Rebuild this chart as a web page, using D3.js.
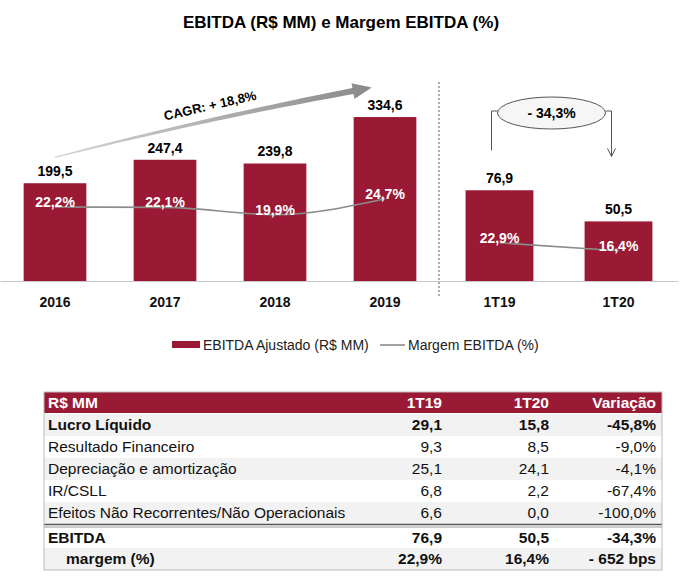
<!DOCTYPE html>
<html>
<head>
<meta charset="utf-8">
<script src="https://cdn.jsdelivr.net/npm/d3@7"></script>
<style>
  body { margin: 0; background: #fff; }
  text { font-family: "Liberation Sans", Arial, sans-serif; }
</style>
</head>
<body>
<svg id="chart" width="690" height="584"></svg>
<script>
// chart data
var years = ["2016", "2017", "2018", "2019"];
var ebitdaYears = [199.5, 247.4, 239.8, 334.6];
var marginYears = [22.2, 22.1, 19.9, 24.7];
var quarters = ["1T19", "1T20"];
var ebitdaQuarters = [76.9, 50.5];
var marginQuarters = [22.9, 16.4];
var cagrLabel = "CAGR: + 18,8%";
var changeLabel = "- 34,3%";
var legendLabels = ["EBITDA Ajustado (R$ MM)", "Margem EBITDA (%)"];

// table data
var tableHeader = ["R$ MM", "1T19", "1T20", "Variação"];
var rowLabels = ["Lucro Líquido", "Resultado Financeiro", "Depreciação e amortização", "IR/CSLL",
  "Efeitos Não Recorrentes/Não Operacionais", "EBITDA", "margem (%)"];
var col1T19 = [29.1, 9.3, 25.1, 6.8, 6.6, 76.9, 22.9];
var col1T20 = [15.8, 8.5, 24.1, 2.2, 0.0, 50.5, 16.4];
var colVariacao = [-45.8, -9.0, -4.1, -67.4, -100.0, -34.3, -652]; // last one in bps

var red = "#9a1a35";
var grey = "#8c8c8c";

var loc = d3.formatLocale({decimal: ",", thousands: ".", grouping: [3], currency: ["R$", ""], minus: "-"});
var fmt1 = loc.format(".1f");

var svg = d3.select("#chart");

// title
svg.append("text")
  .attr("x", 341).attr("y", 28)
  .attr("text-anchor", "middle")
  .style("font-size", "17px").style("font-weight", "bold")
  .text("EBITDA (R$ MM) e Margem EBITDA (%)");

// scales
var xL = d3.scaleBand().domain(years).range([0, 440]).paddingInner(0.43).paddingOuter(0.215);
var yL = d3.scaleLinear().domain([0, 400]).range([281, 85]);
var mL = d3.scaleLinear().domain([0, 30]).range([281, 181]);

var xR = d3.scaleBand().domain(quarters).range([440, 678]).paddingInner(0.43).paddingOuter(0.215);
var yR = d3.scaleLinear().domain([0, 100]).range([281, 163]);
var mR = d3.scaleLinear().domain([0, 30]).range([271, 234]);

// draw one panel: bars, values, margin line, axis
function panel(cats, vals, margins, x, y, m) {
  var g = svg.append("g");

  g.selectAll("rect.bar")
    .data(vals)
    .enter().append("rect")
    .attr("class", "bar")
    .attr("x", function (d, i) { return x(cats[i]); })
    .attr("y", function (d) { return y(d); })
    .attr("width", x.bandwidth())
    .attr("height", function (d) { return y(0) - y(d); })
    .attr("fill", red);

  g.selectAll("text.val")
    .data(vals)
    .enter().append("text")
    .attr("class", "val")
    .attr("x", function (d, i) { return x(cats[i]) + x.bandwidth() / 2; })
    .attr("y", function (d) { return y(d) - 7; })
    .attr("text-anchor", "middle")
    .style("font-size", "14px").style("font-weight", "bold")
    .text(function (d) { return fmt1(d); });

  var line = d3.line()
    .x(function (d, i) { return x(cats[i]) + x.bandwidth() / 2; })
    .y(function (d) { return m(d); })
    .curve(d3.curveMonotoneX);

  g.append("path")
    .datum(margins)
    .attr("d", line)
    .attr("fill", "none")
    .attr("stroke", grey)
    .attr("stroke-width", 1.6);

  g.selectAll("text.mrg")
    .data(margins)
    .enter().append("text")
    .attr("class", "mrg")
    .attr("x", function (d, i) { return x(cats[i]) + x.bandwidth() / 2; })
    .attr("y", function (d) { return m(d); })
    .attr("text-anchor", "middle")
    .attr("fill", "#fff")
    .style("font-size", "14px").style("font-weight", "bold")
    .text(function (d) { return fmt1(d) + "%"; });

  var ax = g.append("g")
    .attr("transform", "translate(0," + y(0) + ")")
    .call(d3.axisBottom(x).tickSize(0).tickPadding(16));
  ax.select(".domain").attr("stroke", "#c8c8c8");
  ax.selectAll("text")
    .style("font-family", "'Liberation Sans', Arial, sans-serif")
    .style("font-size", "14px").style("font-weight", "bold").attr("fill", "#111");
  return g;
}

panel(years, ebitdaYears, marginYears, xL, yL, mL);
panel(quarters, ebitdaQuarters, marginQuarters, xR, yR, mR);

// divider
svg.append("line")
  .attr("x1", 439).attr("x2", 439).attr("y1", 82).attr("y2", 298)
  .attr("stroke", "#777").attr("stroke-width", 1.2).attr("stroke-dasharray", "2,2");

// CAGR arrow (tapered)
var p0 = [xL(years[0]) + xL.bandwidth() / 2, yL(ebitdaYears[0]) - 26];
var p2 = [xL(years[3]) + xL.bandwidth() / 2 - 32, yL(ebitdaYears[3]) - 26];
var p1 = [(p0[0] + p2[0]) / 2, (p0[1] + p2[1]) / 2 - 5];

function bez(t) {
  var a = (1 - t) * (1 - t), b = 2 * (1 - t) * t, c = t * t;
  return [a * p0[0] + b * p1[0] + c * p2[0], a * p0[1] + b * p1[1] + c * p2[1]];
}
function tan(t) {
  var dx = 2 * (1 - t) * (p1[0] - p0[0]) + 2 * t * (p2[0] - p1[0]);
  var dy = 2 * (1 - t) * (p1[1] - p0[1]) + 2 * t * (p2[1] - p1[1]);
  var l = Math.sqrt(dx * dx + dy * dy);
  return [dx / l, dy / l];
}
var leftSide = [], rightSide = [];
d3.range(0, 31).forEach(function (i) {
  var t = i / 30, p = bez(t), tg = tan(t), w = 0.7 + 2.3 * t;
  leftSide.push([p[0] - tg[1] * w, p[1] + tg[0] * w]);
  rightSide.push([p[0] + tg[1] * w, p[1] - tg[0] * w]);
});
var tgEnd = tan(1);
var tip = [p2[0] + tgEnd[0] * 19, p2[1] + tgEnd[1] * 19];
var head = [
  [p2[0] - tgEnd[1] * 8, p2[1] + tgEnd[0] * 8],
  tip,
  [p2[0] + tgEnd[1] * 8, p2[1] - tgEnd[0] * 8]
];

var defs = svg.append("defs");
var grad = defs.append("linearGradient").attr("id", "arrowGrad")
  .attr("gradientUnits", "userSpaceOnUse")
  .attr("x1", p0[0]).attr("y1", p0[1]).attr("x2", tip[0]).attr("y2", tip[1]);
grad.append("stop").attr("offset", "0%").attr("stop-color", "#d6d6d6");
grad.append("stop").attr("offset", "100%").attr("stop-color", "#8a8a8a");

svg.append("path")
  .attr("d", d3.line()(leftSide.concat([head[0], head[1], head[2]]).concat(rightSide.reverse())) + "Z")
  .attr("fill", "url(#arrowGrad)");

svg.append("text")
  .attr("transform", "translate(211,110) rotate(-13)")
  .attr("text-anchor", "middle")
  .style("font-size", "13px").style("font-weight", "bold")
  .text(cagrLabel);

// quarter change annotation
var bx1 = xR(quarters[0]) + xR.bandwidth() / 2 - 8;
var bx2 = xR(quarters[1]) + xR.bandwidth() / 2 - 7;
var ecx = (bx1 + bx2) / 2, ecy = 113, erx = 54, ery = 16;
var ann = svg.append("g").attr("fill", "none").attr("stroke", "#555").attr("stroke-width", 1);
ann.append("path").attr("d", "M" + bx1 + "," + (yR(ebitdaQuarters[0]) - 40) + "V111H" + (ecx - erx));
ann.append("path").attr("d", "M" + (ecx + erx) + ",111H" + bx2 + "V" + (yR(ebitdaQuarters[1]) - 65));
ann.append("path").attr("d", "M" + (bx2 - 4) + "," + (yR(ebitdaQuarters[1]) - 73) + "L" + bx2 + "," +
  (yR(ebitdaQuarters[1]) - 65) + "L" + (bx2 + 4) + "," + (yR(ebitdaQuarters[1]) - 73));
ann.append("ellipse")
  .attr("cx", ecx).attr("cy", ecy).attr("rx", erx).attr("ry", ery)
  .attr("fill", "#f6f6f6");
svg.append("text")
  .attr("x", ecx).attr("y", ecy + 5)
  .attr("text-anchor", "middle")
  .style("font-size", "14px").style("font-weight", "bold")
  .text(changeLabel);

// legend
var lg = svg.append("g");
lg.append("rect").attr("x", 172).attr("y", 341).attr("width", 28).attr("height", 7).attr("fill", red);
lg.append("text").attr("x", 203).attr("y", 350).style("font-size", "14px").attr("fill", "#222").text(legendLabels[0]);
lg.append("line").attr("x1", 380).attr("x2", 405).attr("y1", 345).attr("y2", 345)
  .attr("stroke", grey).attr("stroke-width", 1.6);
lg.append("text").attr("x", 408).attr("y", 350).style("font-size", "14px").attr("fill", "#222").text(legendLabels[1]);

// table
var tx0 = 44, tx1 = 662;
var colRight = [442, 549, 656];
var headTop = 392, headH = 21;
var rowTops = [414, 436, 458, 480, 502, 527, 548];
var rowH = 22;
var boldRows = [0, 5, 6];

var tb = svg.append("g");
tb.append("rect").attr("x", tx0).attr("y", headTop).attr("width", tx1 - tx0).attr("height", headH).attr("fill", red);
tableHeader.forEach(function (h, i) {
  tb.append("text")
    .attr("x", i === 0 ? 48 : colRight[i - 1])
    .attr("y", headTop + 16)
    .attr("text-anchor", i === 0 ? "start" : "end")
    .attr("fill", "#fff")
    .style("font-size", "15.5px").style("font-weight", "bold")
    .text(h);
});

rowLabels.forEach(function (lab, i) {
  var top = rowTops[i];
  var bold = boldRows.indexOf(i) >= 0;
  tb.append("rect").attr("x", tx0).attr("y", top).attr("width", tx1 - tx0).attr("height", rowH)
    .attr("fill", i % 2 === 0 ? "#f2f2f2" : "#fff");
  var isPct = i === 6;
  var cells = [
    fmt1(col1T19[i]) + (isPct ? "%" : ""),
    fmt1(col1T20[i]) + (isPct ? "%" : ""),
    isPct ? "- " + Math.abs(colVariacao[i]) + " bps" : fmt1(colVariacao[i]) + "%"
  ];
  tb.append("text")
    .attr("x", i === 6 ? 66 : 48).attr("y", top + 16)
    .attr("fill", "#111")
    .style("font-size", "15.5px").style("font-weight", bold ? "bold" : "normal")
    .text(lab);
  cells.forEach(function (c, j) {
    tb.append("text")
      .attr("x", colRight[j]).attr("y", top + 16)
      .attr("text-anchor", "end")
      .attr("fill", "#111")
      .style("font-size", "15.5px").style("font-weight", bold ? "bold" : "normal")
      .text(c);
  });
});

// double rule above EBITDA
tb.append("line").attr("x1", tx0).attr("x2", tx1).attr("y1", 524.5).attr("y2", 524.5)
  .attr("stroke", "#555").attr("stroke-width", 1.5);
tb.append("line").attr("x1", tx0).attr("x2", tx1).attr("y1", 527).attr("y2", 527)
  .attr("stroke", "#999").attr("stroke-width", 1);

// outer border
tb.append("rect").attr("x", tx0).attr("y", headTop).attr("width", tx1 - tx0).attr("height", 570 - headTop)
  .attr("fill", "none").attr("stroke", "#bbb").attr("stroke-width", 1);
</script>
</body>
</html>
